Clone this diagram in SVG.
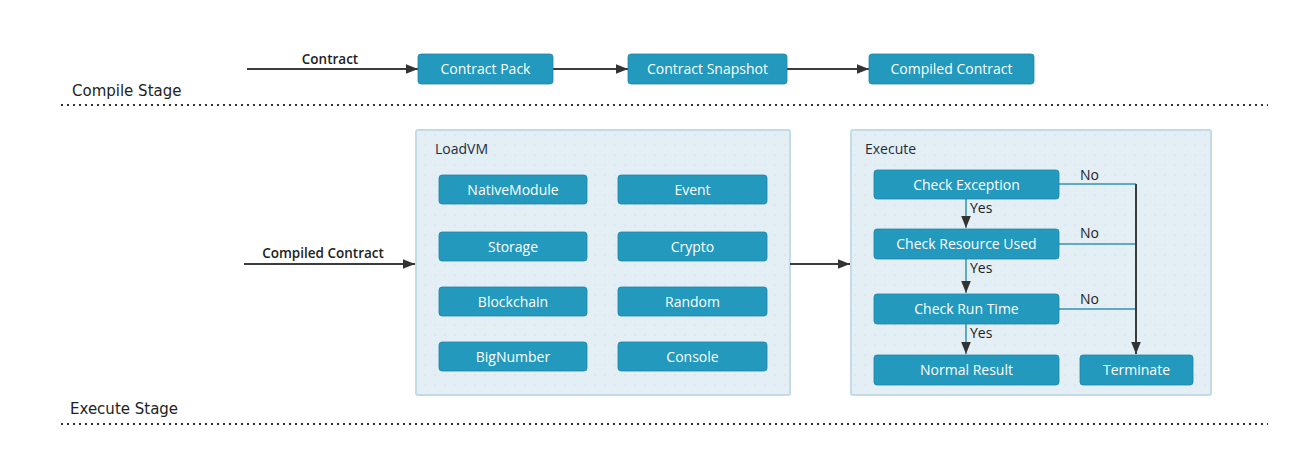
<svg xmlns="http://www.w3.org/2000/svg" width="1299" height="456" viewBox="0 0 1299 456">
<style>
.box{fill:#2299bd;stroke:#1e87a8;stroke-width:0.8}
.bt{font-family:"Open Sans","Noto Sans",sans-serif;font-size:14px;fill:#ffffff;text-anchor:middle;dominant-baseline:central}
.cont{fill:url(#dots);stroke:#c3dbe6;stroke-width:2}
.ct{font-family:"Open Sans","Noto Sans",sans-serif;font-size:14px;fill:#1f2d3a}
.lbl{font-family:"Open Sans","Noto Sans",sans-serif;font-size:14px;fill:#222}
.elbl{font-family:"Open Sans","Noto Sans",sans-serif;font-size:13.5px;font-weight:600;fill:#222;text-anchor:middle}
.stage{font-family:"DejaVu Sans","Noto Sans",sans-serif;font-size:15px;fill:#222}
.dark{stroke:#3a3d40;stroke-width:2;fill:none}
.blue{stroke:#5ea9c4;stroke-width:2;fill:none}
.dot{stroke:#333;stroke-width:2;stroke-dasharray:2 4;fill:none}
</style>
<defs>
<pattern id="dots" width="10" height="10" patternUnits="userSpaceOnUse">
<rect width="10" height="10" fill="#e4eef5"/>
<circle cx="5" cy="5" r="0.6" fill="#c6d9e4"/>
</pattern>
<marker id="ah" viewBox="0 0 10 10" refX="10" refY="5" markerWidth="6" markerHeight="6" orient="auto" markerUnits="strokeWidth">
<path d="M0,1 L10,5 L0,9 Z" fill="#333"/>
</marker>
</defs>
<rect width="1299" height="456" fill="#ffffff"/>

<g id="stages">
<text class="stage" x="72" y="96">Compile Stage</text>
<line class="dot" x1="61" y1="105" x2="1268" y2="105"/>
<text class="stage" x="70" y="414">Execute Stage</text>
<line class="dot" x1="61" y1="424" x2="1268" y2="424"/>
</g>

<g id="loadvm">
<rect class="cont" x="416" y="130" width="374" height="265" rx="2"/>
<text class="ct" x="435" y="154">LoadVM</text>
</g>
<g id="execute">
<rect class="cont" x="851" y="130" width="360" height="265" rx="2"/>
<text class="ct" x="865" y="154">Execute</text>
</g>

<g id="connectors">
<line class="dark" x1="247" y1="69" x2="418" y2="69" marker-end="url(#ah)"/>
<text class="elbl" x="330" y="64">Contract</text>
<line class="dark" x1="553" y1="69" x2="628" y2="69" marker-end="url(#ah)"/>
<line class="dark" x1="787" y1="69" x2="869" y2="69" marker-end="url(#ah)"/>
<line class="dark" x1="244" y1="264" x2="415" y2="264" marker-end="url(#ah)"/>
<text class="elbl" x="323" y="258">Compiled Contract</text>
<line class="dark" x1="790" y1="264" x2="850" y2="264" marker-end="url(#ah)"/>

<line class="blue" x1="966" y1="199" x2="966" y2="228" marker-end="url(#ah)"/>
<text class="lbl" x="970" y="213">Yes</text>
<line class="blue" x1="966" y1="259" x2="966" y2="293" marker-end="url(#ah)"/>
<text class="lbl" x="970" y="273">Yes</text>
<line class="blue" x1="966" y1="324" x2="966" y2="354" marker-end="url(#ah)"/>
<text class="lbl" x="970" y="338">Yes</text>

<line class="blue" x1="1059" y1="184" x2="1136" y2="184"/>
<line class="blue" x1="1059" y1="244" x2="1136" y2="244"/>
<line class="blue" x1="1059" y1="309" x2="1136" y2="309"/>
<line class="dark" x1="1136" y1="184" x2="1136" y2="354" marker-end="url(#ah)"/>
<text class="lbl" x="1080" y="180">No</text>
<text class="lbl" x="1080" y="238">No</text>
<text class="lbl" x="1080" y="304">No</text>
</g>

<g id="contract-pack"><rect class="box" x="418" y="54" width="135" height="30" rx="3"/><text class="bt" x="485.5" y="68.5">Contract Pack</text></g>
<g id="contract-snapshot"><rect class="box" x="628" y="54" width="159" height="30" rx="3"/><text class="bt" x="707.5" y="68.5">Contract Snapshot</text></g>
<g id="compiled-contract"><rect class="box" x="869" y="54" width="165" height="30" rx="3"/><text class="bt" x="951.5" y="68.5">Compiled Contract</text></g>

<g id="nativemodule"><rect class="box" x="439" y="175" width="148" height="29" rx="3"/><text class="bt" x="513" y="189">NativeModule</text></g>
<g id="event"><rect class="box" x="618" y="175" width="149" height="29" rx="3"/><text class="bt" x="692.5" y="189">Event</text></g>
<g id="storage"><rect class="box" x="439" y="232" width="148" height="29" rx="3"/><text class="bt" x="513" y="246">Storage</text></g>
<g id="crypto"><rect class="box" x="618" y="232" width="149" height="29" rx="3"/><text class="bt" x="692.5" y="246">Crypto</text></g>
<g id="blockchain"><rect class="box" x="439" y="287" width="148" height="29" rx="3"/><text class="bt" x="513" y="301">Blockchain</text></g>
<g id="random"><rect class="box" x="618" y="287" width="149" height="29" rx="3"/><text class="bt" x="692.5" y="301">Random</text></g>
<g id="bignumber"><rect class="box" x="439" y="342" width="148" height="29" rx="3"/><text class="bt" x="513" y="356">BigNumber</text></g>
<g id="console"><rect class="box" x="618" y="342" width="149" height="29" rx="3"/><text class="bt" x="692.5" y="356">Console</text></g>

<g id="check-exception"><rect class="box" x="874" y="170" width="185" height="29" rx="3"/><text class="bt" x="966.5" y="184">Check Exception</text></g>
<g id="check-resource"><rect class="box" x="874" y="229" width="185" height="30" rx="3"/><text class="bt" x="966.5" y="243.5">Check Resource Used</text></g>
<g id="check-runtime"><rect class="box" x="874" y="294" width="185" height="30" rx="3"/><text class="bt" x="966.5" y="308.5">Check Run Time</text></g>
<g id="normal-result"><rect class="box" x="874" y="355" width="185" height="30" rx="3"/><text class="bt" x="966.5" y="369.5">Normal Result</text></g>
<g id="terminate"><rect class="box" x="1080" y="355" width="113" height="30" rx="3"/><text class="bt" x="1136.5" y="369.5">Terminate</text></g>
</svg>
